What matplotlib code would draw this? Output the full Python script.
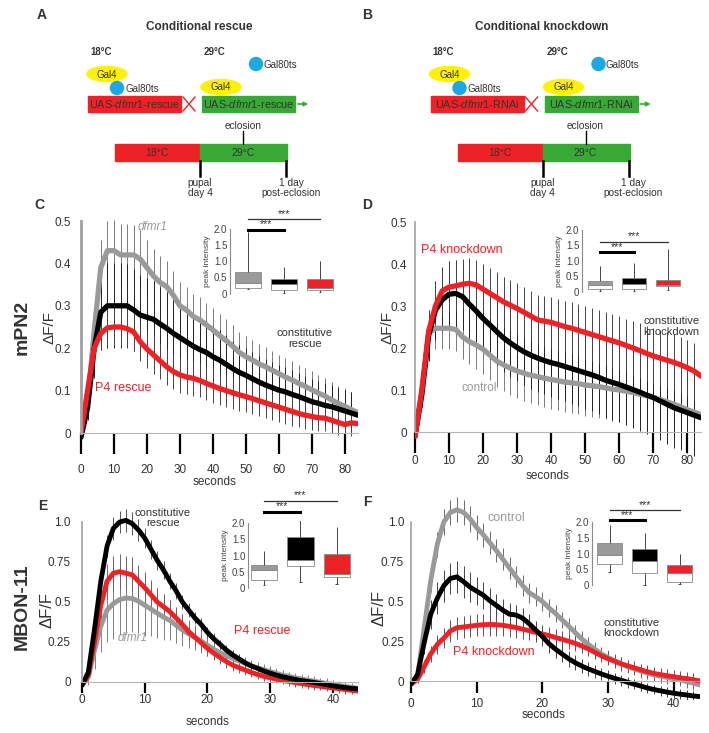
import numpy as np
import matplotlib
matplotlib.use("Agg")
import matplotlib.pyplot as plt
from matplotlib.patches import Ellipse, Circle, Rectangle

plt.rcParams['font.family'] = ['Liberation Sans', 'DejaVu Sans']
plt.rcParams['mathtext.fontset'] = 'custom'
plt.rcParams['mathtext.rm'] = 'Liberation Sans'
plt.rcParams['mathtext.it'] = 'Liberation Sans:italic'

W, H = 709, 733
RED = '#ec2227'
GREEN = '#39a935'
GREY = '#9a9a9a'
YELLOW = '#fff200'
BLUE = '#1ba8e3'
TXT = '#333333'

# ---- traces, mPN2 (C, D): samples every 2 s ----
t_C = np.arange(0, 85, 2)
grey_C = [0.0, 0.07, 0.24, 0.39, 0.43, 0.43, 0.42, 0.42, 0.42, 0.41,
          0.39, 0.37, 0.355, 0.345, 0.325, 0.30, 0.29, 0.275, 0.267, 0.255,
          0.243, 0.23, 0.218, 0.205, 0.19, 0.18, 0.172, 0.163, 0.156, 0.148,
          0.14, 0.132, 0.125, 0.117, 0.11, 0.102, 0.094, 0.087, 0.078, 0.07,
          0.063, 0.055, 0.048]
black_C = [-0.01, 0.06, 0.20, 0.285, 0.30, 0.30, 0.30, 0.30, 0.29, 0.278,
           0.273, 0.268, 0.257, 0.247, 0.235, 0.225, 0.215, 0.205, 0.197, 0.19,
           0.18, 0.172, 0.162, 0.152, 0.143, 0.136, 0.128, 0.12, 0.113, 0.107,
           0.101, 0.097, 0.091, 0.086, 0.08, 0.074, 0.07, 0.065, 0.062, 0.057,
           0.052, 0.047, 0.042]
red_C = [0.0, 0.10, 0.20, 0.235, 0.248, 0.25, 0.25, 0.246, 0.238, 0.215,
         0.198, 0.184, 0.17, 0.156, 0.145, 0.137, 0.132, 0.129, 0.124, 0.117,
         0.111, 0.105, 0.1, 0.095, 0.09, 0.086, 0.081, 0.076, 0.071, 0.066,
         0.061, 0.056, 0.051, 0.046, 0.042, 0.039, 0.036, 0.035, 0.03, 0.025,
         0.02, 0.024, 0.022]
grey_err_C = [0.0, 0.03, 0.05, 0.065, 0.07, 0.072, 0.072, 0.072, 0.07, 0.068,
              0.066, 0.064, 0.062, 0.06, 0.058, 0.056, 0.055, 0.054, 0.053, 0.052,
              0.051, 0.05, 0.05, 0.049, 0.048, 0.048, 0.047, 0.047, 0.046, 0.046,
              0.045, 0.045, 0.045, 0.044, 0.044, 0.044, 0.043, 0.043, 0.043, 0.042,
              0.042, 0.042, 0.042]
black_err_C = [0.0, 0.03, 0.07, 0.09, 0.1, 0.1, 0.1, 0.098, 0.096, 0.094,
               0.092, 0.09, 0.088, 0.086, 0.084, 0.082, 0.08, 0.078, 0.076, 0.074,
               0.072, 0.07, 0.068, 0.066, 0.065, 0.064, 0.063, 0.062, 0.061, 0.06,
               0.059, 0.058, 0.057, 0.056, 0.055, 0.054, 0.053, 0.052, 0.051, 0.05,
               0.05, 0.05, 0.05]
red_err_C = [0.0, 0.02, 0.035, 0.04, 0.045, 0.045, 0.045, 0.045, 0.045, 0.045,
             0.044, 0.044, 0.043, 0.043, 0.042, 0.042, 0.041, 0.041, 0.04, 0.04,
             0.04, 0.039, 0.039, 0.038, 0.038, 0.037, 0.037, 0.036, 0.036, 0.035,
             0.035, 0.034, 0.034, 0.033, 0.033, 0.032, 0.032, 0.031, 0.031, 0.03,
             0.03, 0.03, 0.03]

red_D = [-0.01, 0.10, 0.24, 0.30, 0.336, 0.345, 0.348, 0.352, 0.354, 0.35,
         0.34, 0.33, 0.32, 0.31, 0.302, 0.294, 0.285, 0.276, 0.267, 0.264,
         0.261, 0.256, 0.251, 0.247, 0.242, 0.237, 0.232, 0.227, 0.222, 0.217,
         0.212, 0.206, 0.2, 0.194, 0.187, 0.181, 0.176, 0.171, 0.166, 0.16,
         0.153, 0.145, 0.133]
black_D = [-0.01, 0.09, 0.23, 0.29, 0.315, 0.328, 0.33, 0.322, 0.304, 0.288,
           0.27, 0.255, 0.239, 0.224, 0.212, 0.201, 0.191, 0.183, 0.176, 0.17,
           0.165, 0.161, 0.156, 0.151, 0.146, 0.141, 0.136, 0.13, 0.123, 0.118,
           0.113, 0.107, 0.101, 0.095, 0.088, 0.082, 0.074, 0.066, 0.058, 0.052,
           0.046, 0.04, 0.034]
grey_D = [-0.01, 0.09, 0.235, 0.247, 0.247, 0.247, 0.244, 0.226, 0.215, 0.207,
          0.197, 0.183, 0.169, 0.16, 0.152, 0.145, 0.14, 0.135, 0.132, 0.128,
          0.125, 0.122, 0.119, 0.117, 0.115, 0.112, 0.11, 0.108, 0.105, 0.102,
          0.1, 0.097, 0.094, 0.09, 0.087, 0.082, 0.077, 0.072, 0.066, 0.06,
          0.053, 0.047, 0.041]
red_err_D = [0.0, 0.03, 0.05, 0.055, 0.058, 0.06, 0.06, 0.06, 0.06, 0.06,
             0.06, 0.06, 0.06, 0.06, 0.06, 0.06, 0.06, 0.06, 0.06, 0.06,
             0.061, 0.061, 0.061, 0.062, 0.062, 0.062, 0.063, 0.063, 0.063, 0.064,
             0.064, 0.064, 0.065, 0.065, 0.065, 0.066, 0.066, 0.066, 0.067, 0.067,
             0.067, 0.068, 0.068]
black_err_D = [0.0, 0.03, 0.06, 0.07, 0.075, 0.078, 0.08, 0.08, 0.08, 0.08,
               0.08, 0.08, 0.08, 0.08, 0.08, 0.08, 0.08, 0.08, 0.08, 0.08,
               0.081, 0.082, 0.083, 0.084, 0.085, 0.086, 0.087, 0.088, 0.089, 0.09,
               0.09, 0.091, 0.092, 0.092, 0.093, 0.094, 0.094, 0.095, 0.096, 0.096,
               0.097, 0.098, 0.098]
grey_err_D = [0.0, 0.03, 0.045, 0.05, 0.05, 0.05, 0.05, 0.052, 0.054, 0.056,
              0.058, 0.06, 0.062, 0.063, 0.064, 0.065, 0.066, 0.067, 0.068, 0.069,
              0.07, 0.07, 0.071, 0.072, 0.072, 0.073, 0.074, 0.074, 0.075, 0.076,
              0.077, 0.078, 0.079, 0.08, 0.081, 0.082, 0.083, 0.084, 0.085, 0.086,
              0.087, 0.088, 0.089]

# ---- traces, MBON-11 (E, F): samples every 1 s ----
t_E = np.arange(0, 45)
black_E = [-0.02, 0.06, 0.33, 0.63, 0.85, 0.96, 1.0, 1.01, 0.99, 0.95,
           0.9, 0.83, 0.76, 0.7, 0.63, 0.57, 0.5, 0.45, 0.4, 0.36,
           0.31, 0.27, 0.235, 0.2, 0.17, 0.145, 0.12, 0.1, 0.085, 0.068,
           0.055, 0.043, 0.032, 0.024, 0.016, 0.009, 0.003, -0.003, -0.01, -0.017,
           -0.024, -0.03, -0.035, -0.04, -0.043]
red_E = [-0.02, 0.04, 0.25, 0.48, 0.63, 0.68, 0.69, 0.68, 0.67, 0.63,
         0.59, 0.545, 0.5, 0.47, 0.44, 0.4, 0.36, 0.315, 0.28, 0.245,
         0.21, 0.18, 0.153, 0.128, 0.106, 0.09, 0.075, 0.06, 0.047, 0.035,
         0.027, 0.018, 0.01, 0.003, -0.004, -0.01, -0.016, -0.022, -0.027, -0.032,
         -0.037, -0.042, -0.047, -0.052, -0.057]
grey_E = [-0.02, 0.03, 0.2, 0.35, 0.45, 0.49, 0.515, 0.525, 0.522, 0.505,
          0.48, 0.455, 0.43, 0.405, 0.385, 0.355, 0.325, 0.3, 0.278, 0.255,
          0.23, 0.205, 0.184, 0.165, 0.148, 0.132, 0.117, 0.1, 0.088, 0.077,
          0.065, 0.054, 0.043, 0.035, 0.026, 0.018, 0.012, 0.005, -0.002, -0.008,
          -0.015, -0.022, -0.028, -0.034, -0.04]
black_err_E = [0, 0.02, 0.05, 0.06, 0.07, 0.07, 0.07, 0.07, 0.07, 0.07,
               0.065, 0.06, 0.06, 0.055, 0.05, 0.05, 0.045, 0.045, 0.04, 0.04,
               0.035, 0.035, 0.03, 0.03, 0.03, 0.028, 0.026, 0.025, 0.024, 0.023,
               0.022, 0.021, 0.02, 0.02, 0.02, 0.02, 0.02, 0.02, 0.02, 0.02,
               0.02, 0.02, 0.02, 0.02, 0.02]
red_err_E = [0, 0.03, 0.07, 0.1, 0.11, 0.11, 0.11, 0.11, 0.11, 0.1,
             0.1, 0.09, 0.085, 0.08, 0.075, 0.07, 0.065, 0.06, 0.055, 0.05,
             0.047, 0.044, 0.041, 0.038, 0.035, 0.033, 0.031, 0.03, 0.029, 0.028,
             0.027, 0.026, 0.025, 0.025, 0.025, 0.025, 0.025, 0.025, 0.025, 0.025,
             0.025, 0.025, 0.025, 0.025, 0.025]
grey_err_E = [0, 0.05, 0.12, 0.16, 0.2, 0.22, 0.22, 0.22, 0.21, 0.2,
              0.19, 0.17, 0.155, 0.14, 0.125, 0.11, 0.1, 0.09, 0.08, 0.072,
              0.065, 0.06, 0.055, 0.05, 0.046, 0.043, 0.04, 0.038, 0.036, 0.034,
              0.032, 0.031, 0.03, 0.03, 0.03, 0.03, 0.03, 0.03, 0.03, 0.03,
              0.03, 0.03, 0.03, 0.03, 0.03]

grey_F = [-0.02, 0.03, 0.33, 0.63, 0.86, 1.0, 1.06, 1.077, 1.06, 1.02,
          0.965, 0.92, 0.87, 0.82, 0.765, 0.71, 0.655, 0.6, 0.555, 0.53,
          0.5, 0.46, 0.425, 0.385, 0.345, 0.305, 0.265, 0.23, 0.2, 0.17,
          0.148, 0.128, 0.108, 0.09, 0.075, 0.062, 0.05, 0.038, 0.03, 0.022,
          0.014, 0.006, -0.004, -0.014, -0.025]
black_F = [-0.02, 0.04, 0.24, 0.42, 0.52, 0.6, 0.645, 0.655, 0.625, 0.59,
           0.565, 0.54, 0.505, 0.475, 0.445, 0.42, 0.415, 0.395, 0.36, 0.32,
           0.28, 0.235, 0.2, 0.17, 0.14, 0.115, 0.094, 0.076, 0.06, 0.044,
           0.03, 0.017, 0.005, -0.008, -0.02, -0.032, -0.044, -0.054, -0.062, -0.07,
           -0.077, -0.083, -0.088, -0.094, -0.098]
red_F = [-0.02, 0.01, 0.09, 0.17, 0.23, 0.27, 0.315, 0.335, 0.34, 0.345,
         0.35, 0.354, 0.356, 0.354, 0.35, 0.344, 0.336, 0.326, 0.316, 0.306,
         0.296, 0.286, 0.274, 0.262, 0.25, 0.237, 0.22, 0.202, 0.18, 0.158,
         0.14, 0.124, 0.108, 0.095, 0.083, 0.07, 0.058, 0.048, 0.04, 0.033,
         0.027, 0.02, 0.015, 0.008, 0.0]
grey_err_F = [0, 0.03, 0.06, 0.07, 0.08, 0.08, 0.08, 0.08, 0.08, 0.08,
              0.078, 0.076, 0.074, 0.072, 0.07, 0.068, 0.066, 0.064, 0.062, 0.06,
              0.058, 0.056, 0.054, 0.052, 0.05, 0.049, 0.048, 0.047, 0.046, 0.045,
              0.044, 0.043, 0.042, 0.041, 0.04, 0.04, 0.04, 0.04, 0.04, 0.04,
              0.04, 0.04, 0.04, 0.04, 0.04]
black_err_F = [0, 0.03, 0.07, 0.09, 0.1, 0.1, 0.1, 0.1, 0.1, 0.095,
               0.09, 0.085, 0.08, 0.075, 0.07, 0.068, 0.066, 0.064, 0.062, 0.06,
               0.058, 0.056, 0.054, 0.052, 0.05, 0.048, 0.046, 0.044, 0.042, 0.04,
               0.038, 0.036, 0.035, 0.034, 0.033, 0.032, 0.031, 0.03, 0.03, 0.03,
               0.03, 0.03, 0.03, 0.03, 0.03]
red_err_F = [0, 0.02, 0.04, 0.05, 0.06, 0.065, 0.07, 0.07, 0.07, 0.07,
             0.07, 0.07, 0.07, 0.07, 0.068, 0.066, 0.064, 0.062, 0.06, 0.058,
             0.056, 0.054, 0.052, 0.05, 0.048, 0.046, 0.044, 0.042, 0.04, 0.04,
             0.04, 0.04, 0.04, 0.04, 0.04, 0.04, 0.04, 0.04, 0.04, 0.04,
             0.04, 0.04, 0.04, 0.04, 0.04]

# ---- peak intensity boxes (grey, black, red) ----
box_C = dict(lo=[0.15, 0.01, 0.04], q1=[0.17, 0.11, 0.11], med=[0.32, 0.29, 0.17],
             q3=[0.66, 0.45, 0.45], hi=[1.9, 0.81, 1.0], sig=[1.98, 2.3])
box_D = dict(lo=[0.02, 0.02, 0.05], q1=[0.11, 0.11, 0.18], med=[0.22, 0.27, 0.24],
             q3=[0.37, 0.45, 0.40], hi=[0.85, 0.94, 1.4], sig=[1.28, 1.62])
box_E = dict(lo=[0.1, 0.19, 0.13], q1=[0.26, 0.68, 0.34], med=[0.55, 0.86, 0.42],
             q3=[0.72, 1.56, 1.05], hi=[1.15, 2.26, 1.88], sig=[2.34, 2.67])
box_F = dict(lo=[0.42, 0.0, 0.02], q1=[0.68, 0.37, 0.1], med=[0.95, 0.76, 0.37],
             q3=[1.32, 1.14, 0.65], hi=[1.92, 1.66, 0.97], sig=[2.05, 2.37])


def place(x0, x1, y0, unit, ylim):
    # pixel geometry -> figure fraction rect
    top = y0 - ylim[1] * unit
    bot = y0 - ylim[0] * unit
    return [x0 / W, 1 - bot / H, (x1 - x0) / W, (bot - top) / H]


fig = plt.figure(figsize=(W / 100, H / 100), dpi=100)

# overlay in pixel coordinates for schemes and labels
axd = fig.add_axes([0, 0, 1, 1])
axd.set_xlim(0, W)
axd.set_ylim(H, 0)
axd.axis('off')


def scheme(dx, title, construct):
    axd.text(199 + dx, 27, title, ha='center', va='center', fontsize=8.5,
             fontweight='bold', color=TXT)
    axd.text(90 + dx, 52, '18°C', ha='left', va='center', fontsize=7, fontweight='bold', color=TXT)
    axd.text(204 + dx, 52, '29°C', ha='left', va='center', fontsize=7, fontweight='bold', color=TXT)
    axd.add_patch(Circle((256 + dx, 64), 6.5, color=BLUE))
    axd.text(263 + dx, 65, 'Gal80ts', ha='left', va='center', fontsize=7, color=TXT)
    axd.add_patch(Ellipse((107 + dx, 74), 40, 15, color=YELLOW))
    axd.text(107 + dx, 74.5, 'Gal4', ha='center', va='center', fontsize=7, color=TXT)
    axd.add_patch(Circle((117 + dx, 88), 6.5, color=BLUE))
    axd.text(125 + dx, 89, 'Gal80ts', ha='left', va='center', fontsize=7, color=TXT)
    axd.add_patch(Rectangle((88 + dx, 96), 93, 16, color=RED))
    axd.text(134.5 + dx, 104.5, construct, ha='center', va='center', fontsize=7.8, color=TXT)
    axd.plot([183 + dx, 195 + dx], [97, 111], color=RED, lw=1)
    axd.plot([183 + dx, 195 + dx], [111, 97], color=RED, lw=1)
    axd.add_patch(Ellipse((221 + dx, 87), 40, 15, color=YELLOW))
    axd.text(221 + dx, 87.5, 'Gal4', ha='center', va='center', fontsize=7, color=TXT)
    axd.add_patch(Rectangle((202 + dx, 96), 93, 16, color=GREEN))
    axd.text(248.5 + dx, 104.5, construct, ha='center', va='center', fontsize=7.8, color=TXT)
    axd.annotate('', xy=(311 + dx, 104), xytext=(295 + dx, 104),
                 arrowprops=dict(arrowstyle='-|>', color=GREEN, lw=1.2, mutation_scale=6))
    axd.text(243 + dx, 126, 'eclosion', ha='center', va='center', fontsize=7.3, color=TXT)
    axd.plot([243 + dx] * 2, [131, 144], color='black', lw=1)
    axd.add_patch(Rectangle((115 + dx, 144), 85, 17, color=RED))
    axd.text(157 + dx, 153, '18°C', ha='center', va='center', fontsize=7.5, color=TXT)
    axd.add_patch(Rectangle((200 + dx, 144), 87, 17, color=GREEN))
    axd.text(243 + dx, 153, '29°C', ha='center', va='center', fontsize=7.5, color=TXT)
    axd.plot([200 + dx] * 2, [161, 176], color='black', lw=1.8)
    axd.plot([286 + dx] * 2, [161, 176], color='black', lw=1.8)
    axd.text(200 + dx, 188, 'pupal\nday 4', ha='center', va='center', fontsize=7.3,
             color=TXT, linespacing=1.05)
    axd.text(291 + dx, 188, '1 day\npost-eclosion', ha='center', va='center', fontsize=7.3,
             color=TXT, linespacing=1.05)


scheme(0, 'Conditional rescue', 'UAS-$\\mathit{dfmr1}$-rescue')
scheme(342.5, 'Conditional knockdown', 'UAS-$\\mathit{dfmr1}$-RNAi')

# panel letters and labels
for letter, x, y in [('A', 42, 15), ('B', 367, 15), ('C', 39, 205),
                     ('D', 367, 205), ('E', 43, 506), ('F', 367, 502)]:
    axd.text(x, y, letter, ha='center', va='center', fontsize=10, fontweight='bold', color=TXT)
axd.text(22, 327, 'mPN2', rotation=90, ha='center', va='center', fontsize=14,
         fontweight='bold', color=TXT)
axd.text(22, 607, 'MBON-11', rotation=90, ha='center', va='center', fontsize=14,
         fontweight='bold', color=TXT)
for x, y, fs in [(50, 328, 11), (387, 328, 11), (47, 610, 12), (379, 608, 12)]:
    axd.text(x, y, 'ΔF/F', rotation=90, ha='center', va='center', fontsize=fs, color=TXT)
for x, y in [(215, 482), (548, 476), (208, 722), (544, 715)]:
    axd.text(x, y, 'seconds', ha='center', va='center', fontsize=8.5, color=TXT)


def trace_axes(rect, xlim, ylim, xticks, yticks, ylabels, ytop, tick_len, tick_pad, ypad):
    ax = fig.add_axes(rect)
    ax.set_facecolor('none')
    ax.set_xlim(xlim)
    ax.set_ylim(ylim)
    for s in ['top', 'right']:
        ax.spines[s].set_visible(False)
    ax.spines['bottom'].set_position(('data', 0))
    ax.spines['bottom'].set_color('#b5b5b5')
    ax.spines['bottom'].set_bounds(xlim[0], xlim[1])
    ax.spines['left'].set_color('#a0a0a0')
    ax.spines['left'].set_linewidth(1.2)
    ax.spines['left'].set_bounds(0, ytop)
    ax.set_xticks(xticks)
    ax.set_yticks(yticks)
    ax.set_yticklabels(ylabels)
    ax.tick_params(axis='x', length=tick_len, width=1.6, color='black', pad=tick_pad,
                   labelsize=8.5, labelcolor=TXT)
    ax.tick_params(axis='y', length=0, pad=ypad, labelsize=8.5, labelcolor=TXT)
    return ax


def draw_traces(ax, t, curves, lw):
    for mean, err, col, ecol in curves:
        m = np.array(mean)
        e = np.array(err)
        ax.vlines(t, m - e, m + e, colors=ecol, lw=0.7, zorder=1)
    for mean, err, col, ecol in curves:
        ax.plot(t, mean, color=col, lw=lw, zorder=2, solid_capstyle='round')


def inset(rect, xlim, b):
    ax = fig.add_axes(rect)
    ax.set_facecolor('none')
    ax.set_xlim(xlim)
    ax.set_ylim(-0.05, 2.05)
    pos = np.array([1, 2, 3])
    q1, med, q3 = np.array(b['q1']), np.array(b['med']), np.array(b['q3'])
    ax.vlines(pos, b['lo'], q1, colors='#444444', lw=0.7)
    ax.vlines(pos, q3, b['hi'], colors='#444444', lw=0.7)
    ax.hlines(b['lo'], pos - 0.04, pos + 0.04, colors='#444444', lw=0.7)
    ax.bar(pos, med - q1, bottom=q1, width=0.72, color='white', edgecolor='#8a8a8a', lw=0.6)
    ax.bar(pos, q3 - med, bottom=med, width=0.72, color=[GREY, 'black', RED],
           edgecolor='#8a8a8a', lw=0.6)
    s1, s2 = b['sig']
    ax.plot([1, 2], [s1, s1], color='black', lw=2.2, clip_on=False)
    ax.text(1.5, s1 + 0.02, '***', ha='center', va='bottom', fontsize=7.5, color=TXT)
    ax.plot([1, 3], [s2, s2], color='#333333', lw=0.9, clip_on=False)
    ax.text(2.0, s2 + 0.02, '***', ha='center', va='bottom', fontsize=7.5, color=TXT)
    for s in ['top', 'right', 'bottom']:
        ax.spines[s].set_visible(False)
    ax.spines['left'].set_color('#8a8a8a')
    ax.spines['left'].set_linewidth(0.8)
    ax.spines['left'].set_bounds(0, 2.0)
    ax.set_xticks([])
    ax.set_yticks([0, 0.5, 1.0, 1.5, 2.0])
    ax.set_yticklabels(['0', '0.5', '1.0', '1.5', '2.0'])
    ax.tick_params(axis='y', length=0, pad=2, labelsize=7, labelcolor='#444444')
    ax.set_ylabel('peak intensity', fontsize=6, labelpad=2, color='#444444')
    return ax


yt_small = [0, 0.1, 0.2, 0.3, 0.4, 0.5]
yl_small = ['0', '0.1', '0.2', '0.3', '0.4', '0.5']
yt_big = [0, 0.25, 0.5, 0.75, 1.0]
yl_big = ['0', '0.25', '0.5', '0.75', '1.0']

# C
ylim = (-0.03, 0.52)
axC = trace_axes(place(81, 358, 433, 424, ylim), (0, 84), ylim, range(0, 81, 10),
                 yt_small, yl_small, 0.5, 15, 7, 7)
axC.spines['left'].set_linewidth(2)
draw_traces(axC, t_C, [(grey_C, grey_err_C, GREY, '#7a7a7a'),
                       (black_C, black_err_C, 'black', '#222222'),
                       (red_C, red_err_C, RED, '#444444')], 3.8)
axC.text(21.8, 0.486, 'dfmr1', style='italic', color=GREY, fontsize=8.5, ha='center', va='center')
axC.text(67.9, 0.222, 'constitutive\nrescue', color=TXT, fontsize=8, ha='center', va='center',
         linespacing=1.1)
axC.text(12.7, 0.106, 'P4 rescue', color=RED, fontsize=9, ha='center', va='center')
inset(place(230, 338, 293.5, 32.2, (-0.05, 2.05)), (0.5, 3.5), box_C)

# D
ylim = (-0.07, 0.52)
axD = trace_axes(place(415, 701, 432, 420, ylim), (0, 84), ylim, range(0, 81, 10),
                 yt_small, yl_small, 0.5, 15, 1.5, 6)
draw_traces(axD, t_C, [(grey_D, grey_err_D, GREY, '#7a7a7a'),
                       (black_D, black_err_D, 'black', '#222222'),
                       (red_D, red_err_D, RED, '#444444')], 3.8)
axD.text(13.8, 0.433, 'P4 knockdown', color=RED, fontsize=9, ha='center', va='center')
axD.text(75.3, 0.252, 'constitutive\nknockdown', color=TXT, fontsize=8, ha='center',
         va='center', linespacing=1.1)
axD.text(18.8, 0.105, 'control', color=GREY, fontsize=8.5, ha='center', va='center')
inset(place(582, 685, 292, 31, (-0.05, 2.05)), (0.47, 3.5), box_D)

# E
ylim = (-0.08, 1.12)
axE = trace_axes(place(82, 358, 682, 160, ylim), (0, 44), ylim, range(0, 41, 10),
                 yt_big, yl_big, 1.0, 8, 0.5, 8)
draw_traces(axE, t_E, [(grey_E, grey_err_E, GREY, '#808080'),
                       (red_E, red_err_E, RED, '#666666'),
                       (black_E, black_err_E, 'black', '#555555')], 3.5)
axE.text(12.9, 1.025, 'constitutive\nrescue', color=TXT, fontsize=8, ha='center', va='center',
         linespacing=1.1)
axE.text(28.8, 0.32, 'P4 rescue', color=RED, fontsize=9, ha='center', va='center')
axE.text(8.1, 0.275, 'dfmr1', style='italic', color=GREY, fontsize=8.5, ha='center', va='center')
inset(place(248, 355, 588, 32.5, (-0.05, 2.05)), (0.56, 3.5), box_E)

# F
ylim = (-0.12, 1.18)
axF = trace_axes(place(411, 700, 681, 159, ylim), (0, 44), ylim, range(0, 41, 10),
                 yt_big, yl_big, 1.0, 8.5, 4, 5)
draw_traces(axF, t_E, [(grey_F, grey_err_F, GREY, '#6a6a6a'),
                       (red_F, red_err_F, RED, '#555555'),
                       (black_F, black_err_F, 'black', '#444444')], 3.5)
axF.text(14.5, 1.025, 'control', color=GREY, fontsize=9, ha='center', va='center')
axF.text(33.6, 0.333, 'constitutive\nknockdown', color=TXT, fontsize=8, ha='center',
         va='center', linespacing=1.1)
axF.text(12.6, 0.18, 'P4 knockdown', color=RED, fontsize=9, ha='center', va='center')
inset(place(592, 697, 585, 31.5, (-0.05, 2.05)), (0.49, 3.5), box_F)

fig.savefig('out.png', dpi=100)
